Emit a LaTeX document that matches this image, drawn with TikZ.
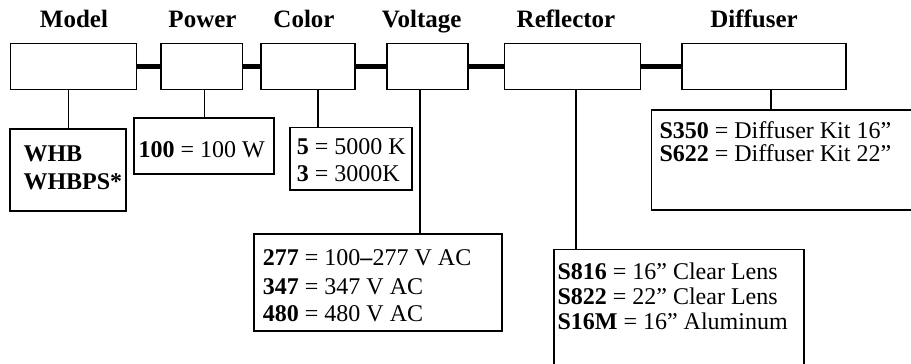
\documentclass[tikz,border=0pt]{standalone}
\usepackage{fontspec}
\setmainfont{Liberation Serif}
\begin{document}
\begin{tikzpicture}[x=1pt,y=-1pt,
  topbox/.style={draw, line width=1.7pt, inner sep=0pt, anchor=north west, minimum height=46pt},
  optbox/.style={draw, line width=1.9pt, inner sep=0pt, anchor=north west},
  head/.style={font=\fontsize{25}{30}\selectfont\bfseries, inner sep=0pt, anchor=base},
  txt/.style={font=\fontsize{24}{28}\selectfont, inner sep=0pt, anchor=base west},
  bar/.style={line width=4.5pt},
  stem/.style={line width=1.3pt}]
\useasboundingbox (0,0) rectangle (911,364);
\begin{scope}
\clip (0,0) rectangle (911,364);
% headings
\node[head] (h1) at (74,27.7) {Model};
\node[head] (h2) at (202.5,27.7) {Power};
\node[head] (h3) at (304,27.7) {Color};
\node[head] (h4) at (421.7,27.7) {Voltage};
\node[head] (h5) at (566,27.7) {Reflector};
\node[head] (h6) at (754,27.7) {Diffuser};
% top boxes
\node[topbox, minimum width=126pt] (model) at (9.5,42.5) {};
\node[topbox, minimum width=81.5pt] (power) at (160,42.5) {};
\node[topbox, minimum width=94pt] (color) at (260,42.5) {};
\node[topbox, minimum width=81pt] (voltage) at (385.8,42.5) {};
\node[topbox, minimum width=136pt] (reflector) at (503.5,42.5) {};
\node[topbox, minimum width=164.5pt] (diffuser) at (680.8,42.5) {};
% thick connectors
\draw[bar] (model.east) -- (power.west);
\draw[bar] (power.east) -- (color.west);
\draw[bar] (color.east) -- (voltage.west);
\draw[bar] (voltage.east) -- (reflector.west);
\draw[bar] (reflector.east) -- (diffuser.west);
% option boxes
\node[optbox, minimum width=116pt, minimum height=82pt] (mo) at (9.3,128) {};
\node[optbox, minimum width=140pt, minimum height=56pt] (po) at (133.3,117) {};
\node[optbox, minimum width=122.6pt, minimum height=62.5pt] (co) at (288.7,126.5) {};
\node[optbox, minimum width=248.4pt, minimum height=96.4pt] (vo) at (252.7,233.3) {};
\node[optbox, minimum width=250.3pt, minimum height=150pt] (ro) at (552.7,248.5) {};
\node[optbox, minimum width=280pt, minimum height=99.7pt] (dfo) at (650.5,109.3) {};
% stems
\draw[stem] (mo.north |- model.south) -- (mo.north);
\draw[stem] (po.north |- power.south) -- (po.north);
\draw[stem] ([xshift=10pt]color.south) -- ([xshift=10pt]color.south |- co.north);
\draw[stem] ([xshift=-7.3pt]voltage.south) -- ([xshift=-7.3pt]voltage.south |- vo.north);
\draw[stem] ([xshift=3.5pt]reflector.south) -- ([xshift=3.5pt]reflector.south |- ro.north);
\draw[stem] ([xshift=7pt]diffuser.south) -- ([xshift=7pt]diffuser.south |- dfo.north);
% texts
\node[txt] (t1a) at (23.3,161.7) {\textbf{WHB}};
\node[txt] (t1b) at (23.3,189.3) {\textbf{WHBPS*}};
\node[txt] (t2) at (138.3,157) {\textbf{100} = 100 W};
\node[txt] (t3a) at (296.7,154) {\textbf{5} = 5000 K};
\node[txt] (t3b) at (296.7,181.7) {\textbf{3} = 3000K};
\node[txt] (t4a) at (262.7,265.7) {\textbf{277} = 100\textbf{–}277 V AC};
\node[txt] (t4b) at (262.7,294) {\textbf{347} = 347 V AC};
\node[txt] (t4c) at (262.7,321) {\textbf{480} = 480 V AC};
\node[txt] (t5a) at (557.3,279.5) {\textbf{S816} = 16” Clear Lens};
\node[txt] (t5b) at (557.3,304.7) {\textbf{S822} = 22” Clear Lens};
\node[txt] (t5c) at (557.3,329.3) {\textbf{S16M} = 16” Aluminum};
\node[txt] (t6a) at (659.3,138.5) {\textbf{S350} = Diffuser Kit 16”};
\node[txt] (t6b) at (659.3,161) {\textbf{S622} = Diffuser Kit 22”};
\end{scope}
\end{tikzpicture}
\end{document}
